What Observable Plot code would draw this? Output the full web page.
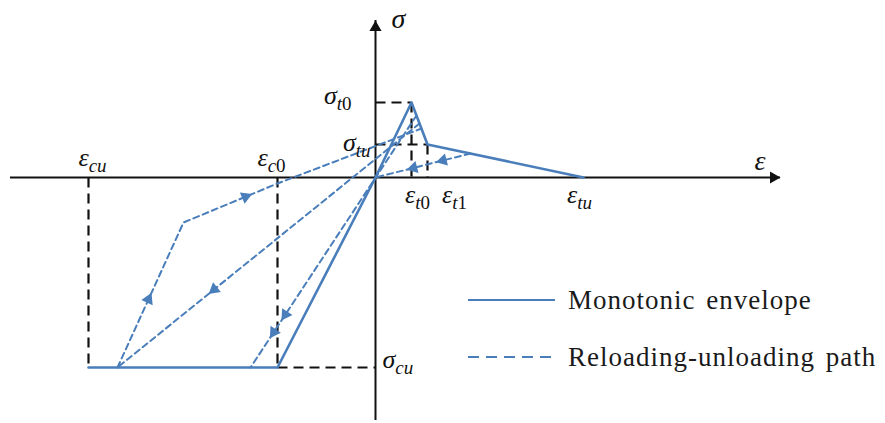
<!DOCTYPE html>
<html><head><meta charset="utf-8">
<script src="https://cdn.jsdelivr.net/npm/d3@7"></script>
<script src="https://cdn.jsdelivr.net/npm/@observablehq/plot@0.6"></script>
<style>
body{margin:0;background:#fff;}
#wrap{position:relative;width:885px;height:423px;overflow:hidden;}
#legend{position:absolute;left:466px;top:282px;font-family:"Liberation Serif",serif;font-size:27px;color:#1a1a1a;letter-spacing:1px;word-spacing:3px;}
.row{display:flex;align-items:center;height:36px;}
.row + .row{margin-top:21px;}
.row span{margin-left:12px;white-space:nowrap;}
.row svg{display:block;}
</style></head><body>
<div id="wrap"><div id="chart"></div><div id="legend"></div></div>
<script>
// ---- data ----
const strainNames = ["ε_cu", "ε_c0", "ε_t0", "ε_t1", "ε_tu"];
const strainValues = [-2.87, -0.98, 0.36, 0.52, 2.08];
const stressNames = ["σ_t0", "σ_tu", "σ_cu"];
const stressValues = [0.75, 0.33, -1.90];
const axisNames = ["ε", "σ"];

const envelopeStrain = [-2.87, -0.98, 0, 0.36, 0.52, 2.08];
const envelopeStress = [-1.90, -1.90, 0, 0.75, 0.33, 0];

const reload1Strain = [-2.58, -1.92, -0.98, 0.46];
const reload1Stress = [-1.90, -0.45, -0.06, 0.49];
const unload1Strain = [0.44, -2.58];
const unload1Stress = [0.54, -1.90];
const unload2Strain = [0.41, -1.25];
const unload2Stress = [0.62, -1.90];
const unload3Strain = [0.95, 0];
const unload3Stress = [0.24, 0];

const legendNames = ["Monotonic envelope", "Reloading-unloading path"];

// ---- layout ----
const blue = "#4a7ebb";
const xAxisExtent = [-3.65, 4.05];
const yAxisExtent = [-2.43, 1.57];
const arrowSpecs = [
  {p: 0, seg: 0, t: 0.47}, {p: 0, seg: 1, t: 0.66},
  {p: 1, seg: 0, t: 0.68},
  {p: 2, seg: 0, t: 0.79}, {p: 2, seg: 0, t: 0.86},
  {p: 3, seg: 0, t: 0.29}, {p: 3, seg: 0, t: 0.60}
];
const labelLayout = {
  "ε_cu": {anchor: "middle", dx: 4, dy: -20},
  "ε_c0": {anchor: "middle", dx: -6, dy: -20},
  "ε_t0": {anchor: "middle", dx: 6, dy: 17},
  "ε_t1": {anchor: "middle", dx: 27, dy: 17},
  "ε_tu": {anchor: "middle", dx: -4, dy: 17},
  "σ_t0": {anchor: "end", dx: -24, dy: -7},
  "σ_tu": {anchor: "end", dx: -5, dy: -2},
  "σ_cu": {anchor: "start", dx: 7, dy: -8}
};

const [eCu, eC0, eT0, eT1, eTu] = strainValues;
const [sT0, sTu, sCu] = stressValues;

const toPts = (xs, ys, id) => xs.map((x, i) => ({x, y: ys[i], id}));
const envelope = toPts(envelopeStrain, envelopeStress, "env");
const dashedPaths = [
  toPts(reload1Strain, reload1Stress, "r1"),
  toPts(unload1Strain, unload1Stress, "u1"),
  toPts(unload2Strain, unload2Stress, "u2"),
  toPts(unload3Strain, unload3Stress, "u3")
];
const arrows = arrowSpecs.map(({p, seg, t}) => {
  const a = dashedPaths[p][seg], b = dashedPaths[p][seg + 1];
  return {x: a.x + (b.x - a.x) * t, y: a.y + (b.y - a.y) * t,
          rot: Math.atan2(b.x - a.x, b.y - a.y) * 180 / Math.PI};
});
const guides = [
  {x1: eCu, y1: 0, x2: eCu, y2: sCu},
  {x1: eC0, y1: 0, x2: eC0, y2: sCu},
  {x1: eC0, y1: sCu, x2: 0, y2: sCu},
  {x1: 0, y1: sT0, x2: eT0, y2: sT0},
  {x1: eT0, y1: sT0, x2: eT0, y2: 0},
  {x1: 0, y1: sTu, x2: eT1, y2: sTu},
  {x1: eT1, y1: sTu, x2: eT1, y2: 0}
];
const labels = [
  ...strainNames.map((name, i) => ({name, x: strainValues[i], y: 0})),
  ...stressNames.map((name, i) => ({name, x: 0, y: stressValues[i]}))
];
const textStyle = {fontFamily: "Liberation Serif, serif", fontStyle: "italic", fill: "#111"};

const chart = Plot.plot({
  width: 885, height: 423,
  marginTop: 0, marginRight: 0, marginBottom: 0, marginLeft: 0,
  x: {domain: [-3.75, 5.10], axis: null},
  y: {domain: [-2.46, 1.77], axis: null},
  marks: [
    Plot.link(guides, {x1: "x1", y1: "y1", x2: "x2", y2: "y2", stroke: "#111", strokeWidth: 2.2, strokeDasharray: "10,6"}),
    Plot.ruleY([0], {x1: xAxisExtent[0], x2: xAxisExtent[1], stroke: "#111", strokeWidth: 2}),
    Plot.ruleX([0], {y1: yAxisExtent[0], y2: yAxisExtent[1], stroke: "#111", strokeWidth: 2}),
    Plot.dot([{x: xAxisExtent[1], y: 0, rot: 90}], {x: "x", y: "y", rotate: "rot", symbol: "triangle", r: 4.5, fill: "#111", dx: -7}),
    Plot.dot([{x: 0, y: yAxisExtent[1], rot: 0}], {x: "x", y: "y", rotate: "rot", symbol: "triangle", r: 4.5, fill: "#111", dy: 7}),
    Plot.line(dashedPaths.flat(), {x: "x", y: "y", z: "id", stroke: blue, strokeWidth: 2, strokeDasharray: "6,4"}),
    Plot.line(envelope, {x: "x", y: "y", stroke: blue, strokeWidth: 2.6}),
    Plot.dot(arrows, {x: "x", y: "y", rotate: "rot", symbol: "triangle", r: 4.6, fill: blue}),
    ...labels.map(l => {
      const L = labelLayout[l.name];
      return Plot.text([l], {x: "x", y: "y", text: "name", textAnchor: L.anchor, dx: L.dx, dy: L.dy, fontSize: 26, ...textStyle});
    }),
    Plot.text([{x: xAxisExtent[1], y: 0, name: axisNames[0]}], {x: "x", y: "y", text: "name", textAnchor: "start", dx: -26, dy: -16, fontSize: 28, ...textStyle}),
    Plot.text([{x: 0, y: yAxisExtent[1], name: axisNames[1]}], {x: "x", y: "y", text: "name", textAnchor: "start", dx: 16, dy: -1, fontSize: 28, ...textStyle})
  ]
});

// subscripts
chart.querySelectorAll("text").forEach(t => {
  if (t.children.length === 0 && t.textContent.includes("_")) {
    const [main, sub] = t.textContent.split("_");
    t.textContent = main;
    const ns = "http://www.w3.org/2000/svg";
    let first = true;
    for (const ch of sub) {
      const ts = document.createElementNS(ns, "tspan");
      ts.setAttribute("font-size", "19");
      if (first) { ts.setAttribute("dy", "6"); first = false; }
      if (/[0-9]/.test(ch)) ts.setAttribute("font-style", "normal");
      ts.textContent = ch;
      t.appendChild(ts);
    }
  }
});
document.getElementById("chart").appendChild(chart);

// legend
const legend = d3.select("#legend");
legendNames.forEach((name, i) => {
  const row = legend.append("div").attr("class", "row");
  const svg = row.append("svg").attr("width", 90).attr("height", 36);
  svg.append("line").attr("x1", 2).attr("x2", 89).attr("y1", 18).attr("y2", 18)
    .attr("stroke", blue).attr("stroke-width", 2.2)
    .attr("stroke-dasharray", i === 0 ? null : "11,7");
  row.append("span").text(name);
});
</script>
</body></html>
